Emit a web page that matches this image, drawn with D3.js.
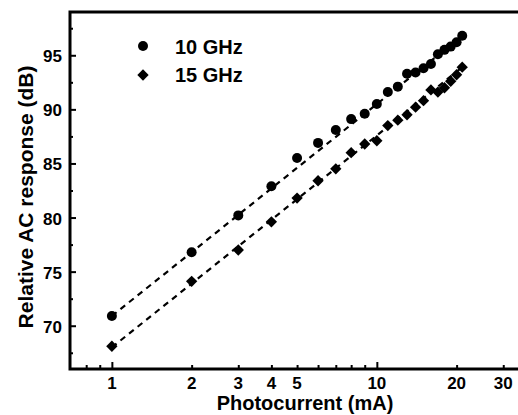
<!DOCTYPE html>
<html>
<head>
<meta charset="utf-8">
<script src="https://cdn.jsdelivr.net/npm/d3@7"></script>
<style>
  body { margin: 0; background: #fff; }
  svg { display: block; }
  text { font-family: "Liberation Sans", Arial, sans-serif; font-weight: bold; fill: #000; }
</style>
</head>
<body>
<div id="chart"></div>
<script>
/**
 * DATA
 * */
const current = [1, 2, 3, 4, 5, 6, 7, 8, 9, 10, 11, 12, 13, 14, 15, 16, 17, 18, 19, 20, 21];
const resp10 = [70.9, 76.8, 80.2, 82.9, 85.5, 86.9, 88.1, 89.1, 89.6, 90.5, 91.6, 92.1, 93.3, 93.4, 93.8, 94.2, 95.1, 95.5, 95.8, 96.2, 96.8];
const resp15 = [68.1, 74.1, 77.0, 79.6, 81.8, 83.4, 84.5, 86.0, 86.8, 87.1, 88.5, 89.0, 89.5, 90.2, 90.8, 91.8, 91.6, 92.0, 92.6, 93.2, 93.9];
const fitX = [1, 21];
const fit10 = [70.9, 96.8];
const fit15 = [68.0, 93.9];
const seriesNames = ["10 GHz", "15 GHz"];

const xMajor = [1, 10];
const xMinor = [0.8, 0.9, 2, 3, 4, 5, 6, 7, 8, 9, 20, 30];
const xLabels = [1, 2, 3, 4, 5, 10, 20, 30];
const yMajor = [70, 75, 80, 85, 90, 95];
const yMinor = [67.5, 72.5, 77.5, 82.5, 87.5, 92.5, 97.5];

/**
 * CONSTANTS
 * */
const width = 518, height = 415;
const plotLeft = 70, plotTop = 12, plotBottom = 369;

const svg = d3.select("#chart").append("svg")
  .attr("width", width)
  .attr("height", height);

const x = d3.scaleLog().domain([0.695, 35]).range([plotLeft, 521]);
const y = d3.scaleLinear().domain([66, 99]).range([plotBottom, plotTop]);

// x axis - ticks point inward
const xAxisMajor = d3.axisBottom(x).tickValues(xMajor).tickSize(-7).tickFormat("");
const xAxisMinor = d3.axisBottom(x).tickValues(xMinor).tickSize(-4).tickFormat("");
[xAxisMajor, xAxisMinor].forEach(ax => {
  svg.append("g")
    .attr("transform", `translate(0,${plotBottom})`)
    .call(ax)
    .call(g => g.select(".domain").remove())
    .selectAll("line").attr("stroke", "#000").attr("stroke-width", 2);
});

svg.append("g").selectAll("text")
  .data(xLabels)
  .join("text")
  .attr("x", d => x(d))
  .attr("y", 389)
  .attr("text-anchor", "middle")
  .style("font-size", "17px")
  .text(d => d);

// y axis
const yAxisMajor = d3.axisLeft(y).tickValues(yMajor).tickSize(-6).tickFormat("");
const yAxisMinor = d3.axisLeft(y).tickValues(yMinor).tickSize(-3).tickFormat("");
[yAxisMajor, yAxisMinor].forEach(ax => {
  svg.append("g")
    .attr("transform", `translate(${plotLeft},0)`)
    .call(ax)
    .call(g => g.select(".domain").remove())
    .selectAll("line").attr("stroke", "#000").attr("stroke-width", 2);
});

svg.append("g").selectAll("text")
  .data(yMajor)
  .join("text")
  .attr("x", 62)
  .attr("y", d => y(d) + 7)
  .attr("text-anchor", "end")
  .style("font-size", "17px")
  .text(d => d);

// frame: left, top, bottom (plot is cut at the right)
svg.append("path")
  .attr("d", `M${width},${plotTop}H${plotLeft}V${plotBottom}H${width}`)
  .attr("fill", "none")
  .attr("stroke", "#000")
  .attr("stroke-width", 3);

// fit lines
const line = d3.line().x(d => x(d[0])).y(d => y(d[1]));
[fit10, fit15].forEach(f => {
  svg.append("path")
    .datum(fitX.map((v, i) => [v, f[i]]))
    .attr("d", line)
    .attr("fill", "none")
    .attr("stroke", "#000")
    .attr("stroke-width", 2.2)
    .attr("stroke-dasharray", "6,5");
});

// markers
svg.append("g").selectAll("circle")
  .data(current.map((c, i) => [c, resp10[i]]))
  .join("circle")
  .attr("cx", d => x(d[0]))
  .attr("cy", d => y(d[1]))
  .attr("r", 5)
  .attr("fill", "#000");

const diamond = d3.symbol().type(d3.symbolSquare).size(64);
svg.append("g").selectAll("path")
  .data(current.map((c, i) => [c, resp15[i]]))
  .join("path")
  .attr("d", diamond)
  .attr("transform", d => `translate(${x(d[0])},${y(d[1])}) rotate(45)`)
  .attr("fill", "#000");

// legend
const legend = svg.append("g");
legend.append("circle").attr("cx", 143).attr("cy", 46).attr("r", 5).attr("fill", "#000");
legend.append("path").attr("d", diamond).attr("transform", "translate(143,75) rotate(45)").attr("fill", "#000");
legend.selectAll("text")
  .data(seriesNames)
  .join("text")
  .attr("x", 175)
  .attr("y", (d, i) => 54 + i * 28)
  .style("font-size", "20px")
  .text(d => d);

// axis titles
svg.append("text")
  .attr("x", 305)
  .attr("y", 410)
  .attr("text-anchor", "middle")
  .style("font-size", "20px")
  .text("Photocurrent (mA)");

svg.append("text")
  .attr("transform", "translate(33,197) rotate(-90)")
  .attr("text-anchor", "middle")
  .style("font-size", "21px")
  .text("Relative AC response (dB)");
</script>
</body>
</html>
